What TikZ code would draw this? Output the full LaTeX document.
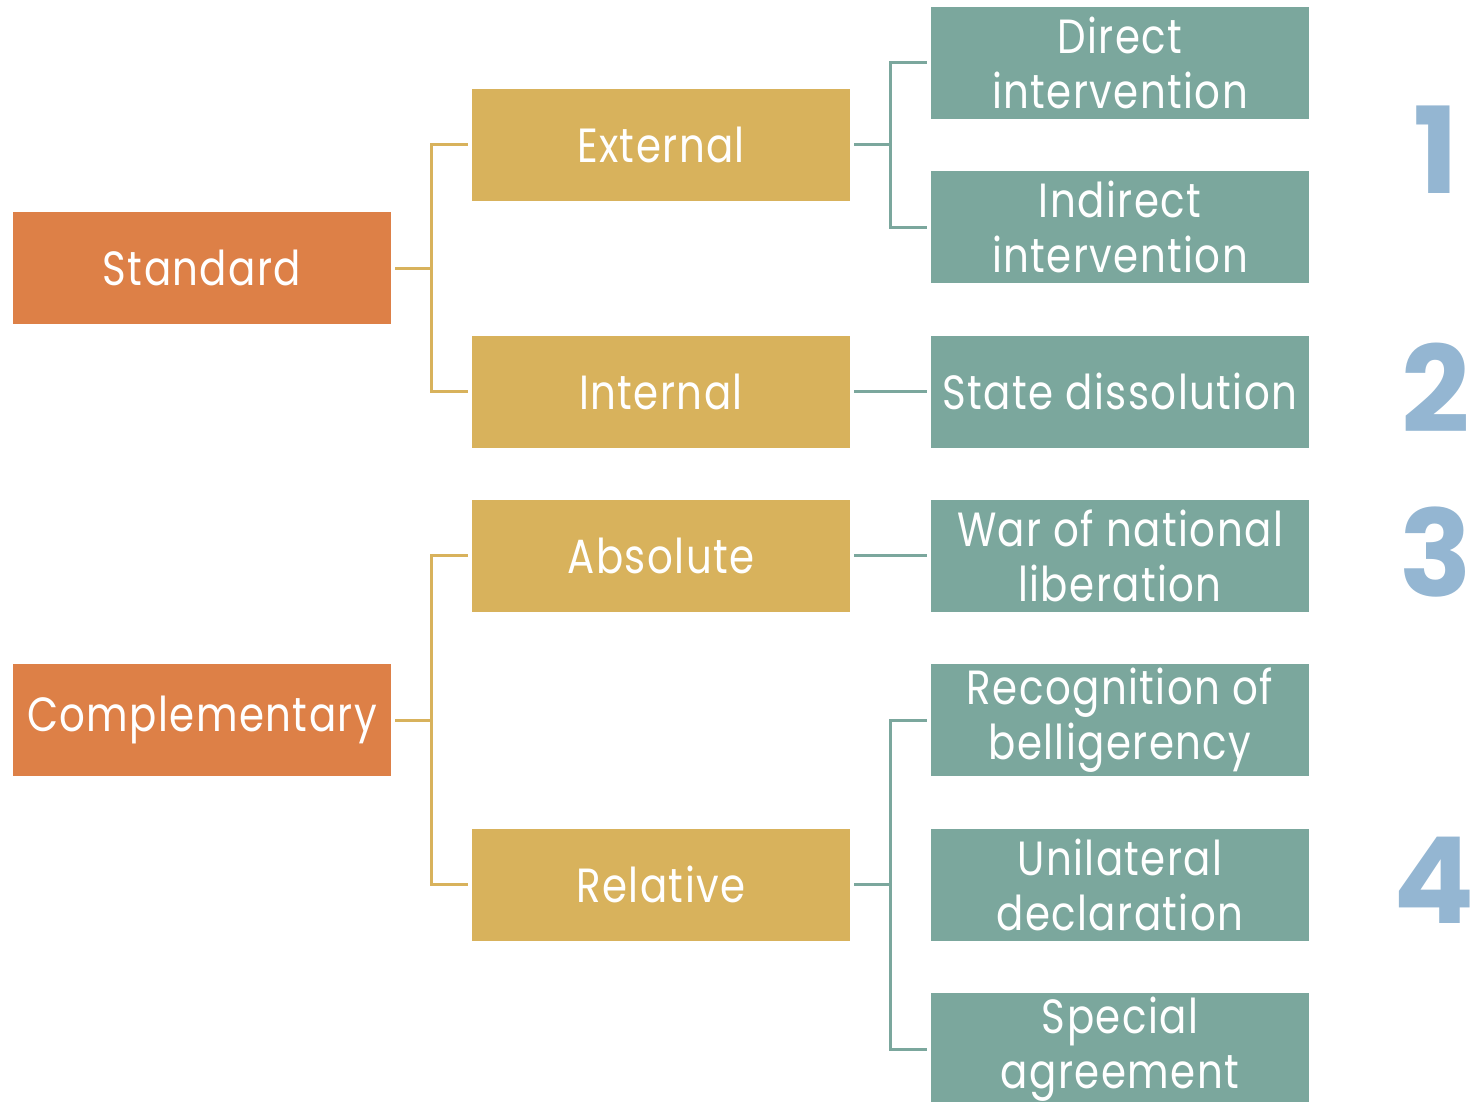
\documentclass[tikz,border=0pt]{standalone}
\usepackage{fontspec}
\newfontfamily\tw[FakeStretch=0.84,LetterSpace=3]{Poppins}
\newfontfamily\numf{Poppins}
\definecolor{orng}{HTML}{DD8047}
\definecolor{yllw}{HTML}{D8B25C}
\definecolor{teal2}{HTML}{7BA79D}
\definecolor{blu}{HTML}{94B6D2}
\begin{document}
\begin{tikzpicture}[x=1pt,y=-1pt,
  box/.style={minimum width=378pt,minimum height=112pt,inner sep=0pt,
    text=white,align=center,font=\tw\fontsize{48}{55}\selectfont},
  lvlA/.style={box,fill=orng},
  lvlB/.style={box,fill=yllw},
  lvlC/.style={box,fill=teal2},
  ylink/.style={draw=yllw,line width=3pt},
  tlink/.style={draw=teal2,line width=3pt},
  num/.style={text=blu,font=\numf\bfseries\fontsize{120}{120}\selectfont,inner sep=0pt}]
\useasboundingbox (0,0) rectangle (1480,1101);
\begin{scope}
\clip (0,0) rectangle (1480,1101);
\node[lvlA] (std) at (202,268) {Standard};
\node[lvlA] (cmp) at (202,720) {Complementary};
\node[lvlB] (ext) at (661,144.5) {External};
\node[lvlB] (int) at (661,391.5) {Internal};
\node[lvlB] (abs) at (661,555.5) {Absolute};
\node[lvlB] (rel) at (661,884.5) {Relative};
\node[lvlC] (dir) at (1120,62.5) {Direct\\intervention};
\node[lvlC] (ind) at (1120,227) {Indirect\\intervention};
\node[lvlC] (sta) at (1120,391.5) {State dissolution};
\node[lvlC] (war) at (1120,555.5) {War of national\\liberation};
\node[lvlC] (rec) at (1120,720) {Recognition of\\belligerency};
\node[lvlC] (uni) at (1120,884.5) {Unilateral\\declaration};
\node[lvlC,minimum height=112pt] (spe) at (1120,1049) {Special\\agreement};
\end{scope}
\coordinate (ys) at (431,0);
\coordinate (ts) at (890,0);
\draw[ylink] ([xshift=4pt]std.east) -- (std.east -| ys);
\draw[ylink] ([xshift=-4pt]ext.west) -- (ext.west -| ys) -- (int.west -| ys) -- ([xshift=-4pt]int.west);
\draw[ylink] ([xshift=4pt]cmp.east) -- (cmp.east -| ys);
\draw[ylink] ([xshift=-4pt]abs.west) -- (abs.west -| ys) -- (rel.west -| ys) -- ([xshift=-4pt]rel.west);
\draw[tlink] ([xshift=4pt]ext.east) -- (ext.east -| ts);
\draw[tlink] ([xshift=-4pt]dir.west) -- (dir.west -| ts) -- (ind.west -| ts) -- ([xshift=-4pt]ind.west);
\draw[tlink] ([xshift=4pt]int.east) -- ([xshift=-4pt]sta.west);
\draw[tlink] ([xshift=4pt]abs.east) -- ([xshift=-4pt]war.west);
\draw[tlink] ([xshift=4pt]rel.east) -- (rel.east -| ts);
\draw[tlink] ([xshift=-4pt]rec.west) -- (rec.west -| ts) -- (spe.west -| ts) -- ([xshift=-4pt]spe.west);
\node[num] (n1) at (1436,150) {1};
\node[num] (n2) at (1436,388) {2};
\node[num] (n3) at (1436,552) {3};
\node[num] (n4) at (1434,880) {4};
\end{tikzpicture}
\end{document}
